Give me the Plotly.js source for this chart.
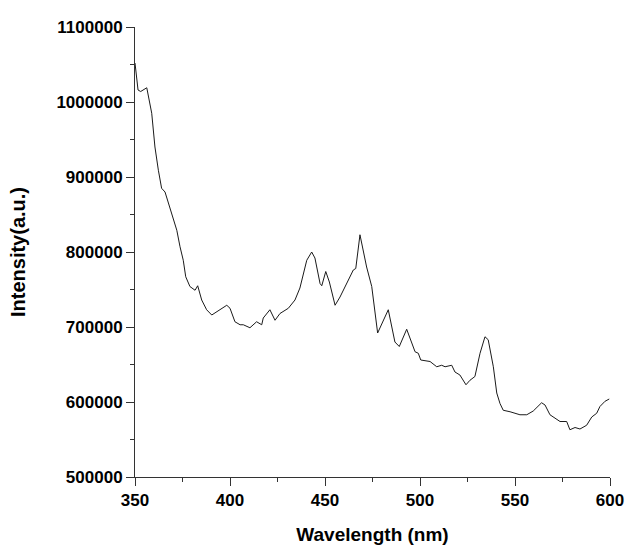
<!DOCTYPE html>
<html>
<head>
<meta charset="utf-8">
<script src="https://cdn.plot.ly/plotly-3.0.1.min.js"></script>
<style>html,body{margin:0;padding:0;background:#fff;}#chart{width:627px;height:545px;}</style>
</head>
<body>
<div id="chart"></div>
<script>
const wavelength = [350,351.6,353,356.2,358.8,360.5,362.3,364,365.8,368.4,372,373.7,375.4,376.7,378.9,381.6,383,385.1,387.7,390.4,393,398.3,400,402.6,405.3,407,410.5,414,416.7,417.5,421,423.7,426.3,430.7,434.2,436.8,440.4,443,444.7,447.4,448.3,450.4,452.3,455.3,457.9,461.4,464.9,466.2,468.4,471.9,474.6,477.7,479.8,483.3,486.8,489.1,493,495.6,497.4,499.1,500.4,505.3,508.8,511.4,513.2,516.7,518.4,521,524.2,526.3,528.9,531.6,534.2,535.9,538.6,540.4,542.1,543.8,547.4,552.6,556.2,559.6,564,565.8,568.4,573.7,577.2,578.9,581.6,584.2,587.7,590.4,593,594.7,597.4,599.6];
const intensity = [1052000,1016000,1014000,1019000,985000,940000,909000,885000,880000,858000,829000,807000,789000,767000,754000,749000,755000,736000,723000,716000,720000,729000,725000,707000,703000,703000,699000,707000,703000,712000,723000,709000,718000,725000,736000,752000,789000,800000,792000,758000,755000,774000,760000,729000,740000,758000,776000,778000,823000,780000,754000,692000,703000,723000,680000,674000,697000,680000,667000,665000,656000,654000,647000,649000,647000,649000,640000,636000,623000,629000,634000,665000,687000,683000,647000,612000,598000,589000,587000,583000,583000,588000,599000,596000,583000,574000,574000,563000,566000,564000,569000,580000,585000,594000,601000,604000];
const xTitle = "Wavelength (nm)";
const yTitle = "Intensity(a.u.)";

const fontFam = '"Liberation Sans", Arial, sans-serif';
const trace = {
  x: wavelength, y: intensity, type: 'scatter', mode: 'lines',
  line: {color: '#1a1a1a', width: 1}, hoverinfo: 'none'
};
const layout = {
  width: 627, height: 545,
  margin: {l: 135, r: 17, t: 27, b: 68},
  paper_bgcolor: '#fff', plot_bgcolor: '#fff',
  showlegend: false,
  font: {family: fontFam, color: '#000'},
  xaxis: {
    range: [350, 600], dtick: 50, tick0: 350,
    showgrid: false, zeroline: false, showline: true, linecolor: '#333', linewidth: 1,
    ticks: 'outside', ticklen: 8, tickwidth: 1, tickcolor: '#333',
    minor: {ticks: 'outside', ticklen: 4, dtick: 25, tick0: 350, tickcolor: '#333', showgrid: false},
    tickfont: {family: fontFam, size: 17, weight: 'bold', color: '#000'},
    title: {text: xTitle, font: {family: fontFam, size: 19, weight: 'bold', color: '#000'}, standoff: 20}
  },
  yaxis: {
    range: [500000, 1100000], dtick: 100000, tick0: 500000, tickformat: 'd',
    showgrid: false, zeroline: false, showline: true, linecolor: '#333', linewidth: 1,
    ticks: 'outside', ticklen: 8, tickwidth: 1, tickcolor: '#333',
    minor: {ticks: 'outside', ticklen: 4, dtick: 50000, tick0: 500000, tickcolor: '#333', showgrid: false},
    tickfont: {family: fontFam, size: 17, weight: 'bold', color: '#000'},
    title: {text: yTitle, font: {family: fontFam, size: 20, weight: 'bold', color: '#000'}, standoff: 25}
  }
};
Plotly.newPlot('chart', [trace], layout, {staticPlot: true, displayModeBar: false});
</script>
</body>
</html>
